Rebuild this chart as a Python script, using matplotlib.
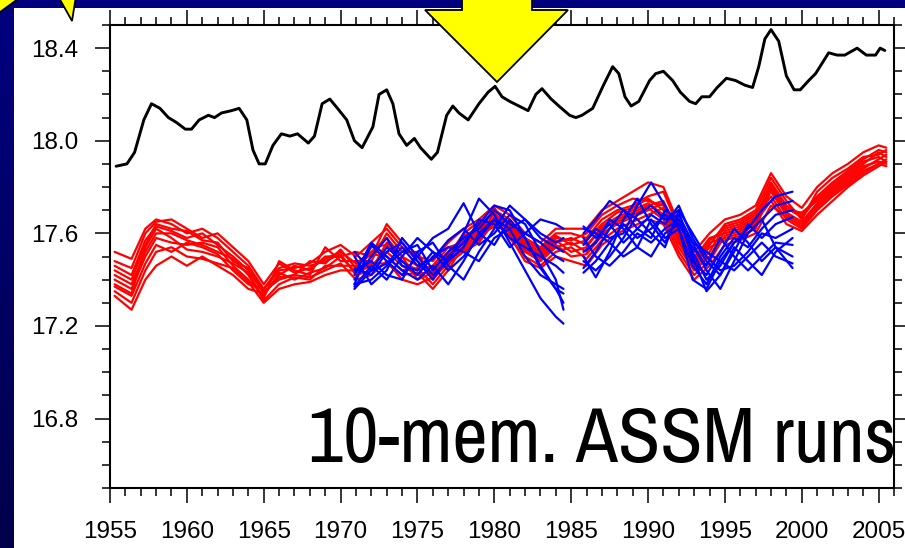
import numpy as np
import matplotlib
matplotlib.use("Agg")
import matplotlib.pyplot as plt
from matplotlib import font_manager
from matplotlib.patches import Rectangle, Polygon
from matplotlib.colors import LinearSegmentedColormap
from matplotlib.ticker import MultipleLocator, FormatStrFormatter

# ---------------- data ----------------
obs_year = [
    1955.4, 1956.1, 1956.6, 1957.2, 1957.7, 1958.25, 1958.8, 1959.3, 1959.9, 1960.3,
    1960.8, 1961.4, 1961.8, 1962.25, 1962.9, 1963.4, 1963.9, 1964.3, 1964.7, 1965.1,
    1965.6, 1966.15, 1966.7, 1967.2, 1967.9, 1968.3, 1968.8, 1969.3, 1969.8, 1970.4,
    1970.9, 1971.4, 1972.1, 1972.5, 1973.0, 1973.4, 1973.8, 1974.3, 1974.8, 1975.2,
    1975.9, 1976.3, 1976.9, 1977.3, 1977.7, 1978.3, 1979.0, 1979.6, 1980.05, 1980.5,
    1981.0, 1981.6, 1982.2, 1982.7, 1983.1, 1983.7, 1984.2, 1984.9, 1985.3, 1985.7,
    1986.4, 1987.1, 1987.7, 1988.1, 1988.5, 1988.9, 1989.4, 1990.1, 1990.5, 1991.0,
    1991.6, 1992.1, 1992.7, 1993.1, 1993.5, 1994.0, 1994.5, 1995.1, 1995.7, 1996.3,
    1996.8, 1997.2, 1997.6, 1998.0, 1998.5, 1999.0, 1999.5, 1999.9, 2000.45, 2000.9,
    2001.75, 2002.3, 2002.8, 2003.6, 2004.2, 2004.8, 2005.1, 2005.4]
obs_temp = [
    17.89, 17.90, 17.95, 18.09, 18.16, 18.14, 18.10, 18.08, 18.05, 18.05,
    18.09, 18.11, 18.10, 18.12, 18.13, 18.14, 18.09, 17.96, 17.90, 17.90,
    17.98, 18.03, 18.02, 18.03, 17.99, 18.02, 18.16, 18.18, 18.14, 18.09,
    18.00, 17.97, 18.06, 18.20, 18.22, 18.16, 18.03, 17.98, 18.01, 17.97,
    17.92, 17.95, 18.11, 18.15, 18.12, 18.09, 18.16, 18.21, 18.235, 18.19,
    18.17, 18.15, 18.13, 18.20, 18.225, 18.18, 18.15, 18.11, 18.10, 18.11,
    18.14, 18.24, 18.32, 18.29, 18.19, 18.15, 18.17, 18.26, 18.29, 18.30,
    18.26, 18.21, 18.17, 18.16, 18.19, 18.19, 18.23, 18.27, 18.26, 18.24,
    18.23, 18.32, 18.44, 18.48, 18.43, 18.28, 18.22, 18.22, 18.26, 18.29,
    18.38, 18.37, 18.37, 18.40, 18.37, 18.37, 18.40, 18.39]

# free-running 10-member ensemble (red): one row per time, one column per member
red_year = [1955.3, 1956.4, 1957.3] + list(range(1958, 2006)) + [2005.5]
red_rows = [
    [17.52, 17.48, 17.46, 17.44, 17.42, 17.40, 17.38, 17.37, 17.35, 17.33],
    [17.49, 17.45, 17.42, 17.40, 17.38, 17.36, 17.34, 17.33, 17.30, 17.27],
    [17.62, 17.60, 17.57, 17.55, 17.52, 17.50, 17.54, 17.47, 17.44, 17.40],
    [17.66, 17.65, 17.63, 17.64, 17.60, 17.58, 17.62, 17.55, 17.52, 17.46],
    [17.64, 17.66, 17.61, 17.62, 17.60, 17.56, 17.58, 17.52, 17.54, 17.50],
    [17.60, 17.62, 17.58, 17.61, 17.57, 17.55, 17.53, 17.56, 17.50, 17.46],
    [17.62, 17.58, 17.60, 17.57, 17.55, 17.56, 17.52, 17.54, 17.49, 17.50],
    [17.58, 17.60, 17.55, 17.56, 17.52, 17.54, 17.50, 17.51, 17.47, 17.46],
    [17.52, 17.54, 17.50, 17.48, 17.49, 17.46, 17.47, 17.44, 17.45, 17.42],
    [17.46, 17.48, 17.44, 17.45, 17.42, 17.40, 17.43, 17.38, 17.39, 17.36],
    [17.36, 17.38, 17.34, 17.35, 17.32, 17.33, 17.31, 17.36, 17.30, 17.34],
    [17.44, 17.47, 17.42, 17.40, 17.48, 17.43, 17.38, 17.45, 17.36, 17.41],
    [17.45, 17.43, 17.46, 17.42, 17.44, 17.40, 17.41, 17.47, 17.38, 17.42],
    [17.47, 17.45, 17.44, 17.48, 17.42, 17.43, 17.40, 17.46, 17.39, 17.41],
    [17.52, 17.49, 17.50, 17.47, 17.54, 17.45, 17.46, 17.48, 17.42, 17.44],
    [17.55, 17.52, 17.50, 17.53, 17.48, 17.50, 17.46, 17.51, 17.44, 17.47],
    [17.50, 17.47, 17.52, 17.45, 17.48, 17.43, 17.46, 17.42, 17.44, 17.40],
    [17.56, 17.52, 17.50, 17.54, 17.48, 17.46, 17.51, 17.44, 17.47, 17.42],
    [17.62, 17.58, 17.64, 17.55, 17.60, 17.52, 17.50, 17.56, 17.47, 17.48],
    [17.54, 17.50, 17.56, 17.48, 17.52, 17.46, 17.44, 17.50, 17.42, 17.40],
    [17.50, 17.46, 17.48, 17.44, 17.52, 17.42, 17.45, 17.40, 17.43, 17.38],
    [17.48, 17.45, 17.42, 17.46, 17.40, 17.44, 17.38, 17.43, 17.36, 17.41],
    [17.56, 17.52, 17.50, 17.54, 17.48, 17.51, 17.46, 17.49, 17.44, 17.47],
    [17.62, 17.58, 17.60, 17.56, 17.59, 17.54, 17.57, 17.53, 17.55, 17.52],
    [17.66, 17.63, 17.65, 17.60, 17.62, 17.58, 17.61, 17.57, 17.59, 17.56],
    [17.72, 17.70, 17.68, 17.71, 17.66, 17.69, 17.64, 17.67, 17.63, 17.65],
    [17.68, 17.66, 17.64, 17.62, 17.65, 17.60, 17.63, 17.58, 17.61, 17.59],
    [17.60, 17.58, 17.56, 17.54, 17.57, 17.52, 17.55, 17.50, 17.53, 17.48],
    [17.56, 17.54, 17.52, 17.50, 17.53, 17.48, 17.51, 17.46, 17.49, 17.45],
    [17.62, 17.60, 17.58, 17.56, 17.59, 17.54, 17.57, 17.52, 17.55, 17.50],
    [17.62, 17.60, 17.57, 17.58, 17.55, 17.56, 17.52, 17.54, 17.50, 17.48],
    [17.62, 17.58, 17.60, 17.55, 17.57, 17.52, 17.54, 17.49, 17.51, 17.46],
    [17.70, 17.66, 17.68, 17.62, 17.64, 17.60, 17.63, 17.57, 17.59, 17.55],
    [17.74, 17.70, 17.72, 17.66, 17.69, 17.64, 17.67, 17.62, 17.65, 17.60],
    [17.78, 17.72, 17.75, 17.69, 17.71, 17.67, 17.70, 17.65, 17.68, 17.63],
    [17.82, 17.76, 17.74, 17.72, 17.75, 17.70, 17.73, 17.68, 17.71, 17.66],
    [17.80, 17.78, 17.72, 17.74, 17.70, 17.73, 17.68, 17.71, 17.66, 17.64],
    [17.64, 17.62, 17.58, 17.60, 17.56, 17.59, 17.54, 17.57, 17.52, 17.50],
    [17.52, 17.50, 17.47, 17.49, 17.45, 17.48, 17.44, 17.46, 17.42, 17.40],
    [17.60, 17.57, 17.55, 17.58, 17.52, 17.56, 17.50, 17.54, 17.48, 17.46],
    [17.66, 17.62, 17.64, 17.60, 17.63, 17.58, 17.61, 17.57, 17.59, 17.55],
    [17.68, 17.64, 17.66, 17.62, 17.65, 17.60, 17.63, 17.59, 17.61, 17.57],
    [17.72, 17.68, 17.70, 17.66, 17.69, 17.64, 17.67, 17.62, 17.65, 17.60],
    [17.86, 17.82, 17.84, 17.80, 17.78, 17.81, 17.76, 17.79, 17.74, 17.72],
    [17.76, 17.72, 17.74, 17.70, 17.68, 17.71, 17.66, 17.69, 17.64, 17.67],
    [17.71, 17.68, 17.66, 17.69, 17.64, 17.67, 17.62, 17.65, 17.61, 17.63],
    [17.80, 17.76, 17.78, 17.74, 17.72, 17.75, 17.70, 17.73, 17.68, 17.71],
    [17.86, 17.82, 17.84, 17.80, 17.78, 17.81, 17.76, 17.79, 17.74, 17.77],
    [17.90, 17.87, 17.88, 17.85, 17.83, 17.86, 17.81, 17.84, 17.80, 17.82],
    [17.95, 17.92, 17.93, 17.90, 17.88, 17.91, 17.86, 17.89, 17.85, 17.87],
    [17.98, 17.96, 17.94, 17.95, 17.92, 17.93, 17.90, 17.91, 17.89, 17.90],
    [17.97, 17.95, 17.96, 17.93, 17.94, 17.91, 17.92, 17.90, 17.91, 17.89],
]

# assimilation runs (blue), first window
assmA_year = [1970.9, 1972, 1973, 1974, 1975, 1976, 1977, 1978, 1979, 1980,
              1981, 1982, 1983, 1984, 1984.5]
assmA_runs = [
    [17.38, 17.55, 17.48, 17.42, 17.50, 17.58, 17.62, 17.73, 17.60, 17.55, 17.66, 17.58, 17.45, 17.36, 17.30],
    [17.40, 17.50, 17.58, 17.46, 17.44, 17.52, 17.48, 17.60, 17.75, 17.68, 17.56, 17.44, 17.32, 17.24, 17.21],
    [17.45, 17.42, 17.52, 17.56, 17.48, 17.40, 17.50, 17.56, 17.64, 17.72, 17.70, 17.58, 17.46, 17.36, 17.34],
    [17.37, 17.46, 17.40, 17.50, 17.58, 17.52, 17.44, 17.50, 17.58, 17.66, 17.62, 17.50, 17.42, 17.38, 17.36],
    [17.52, 17.44, 17.47, 17.54, 17.46, 17.49, 17.57, 17.62, 17.55, 17.60, 17.68, 17.64, 17.52, 17.40, 17.27],
    [17.42, 17.56, 17.50, 17.44, 17.40, 17.46, 17.38, 17.48, 17.60, 17.66, 17.58, 17.54, 17.50, 17.46, 17.43],
    [17.38, 17.40, 17.46, 17.52, 17.55, 17.44, 17.52, 17.58, 17.62, 17.70, 17.64, 17.60, 17.56, 17.50, 17.48],
    [17.44, 17.48, 17.42, 17.40, 17.52, 17.56, 17.46, 17.40, 17.52, 17.62, 17.72, 17.66, 17.58, 17.54, 17.52],
    [17.36, 17.44, 17.54, 17.48, 17.42, 17.50, 17.54, 17.52, 17.48, 17.58, 17.62, 17.66, 17.60, 17.56, 17.58],
    [17.50, 17.38, 17.44, 17.58, 17.50, 17.42, 17.48, 17.54, 17.66, 17.64, 17.54, 17.60, 17.66, 17.64, 17.62],
]

# assimilation runs (blue), second window
assmB_year = [1985.8, 1986.6, 1987.5, 1988.4, 1989.3, 1990.2, 1991.1, 1992, 1992.9,
              1993.8, 1994.7, 1995.6, 1996.5, 1997.4, 1998.3, 1999.4]
assmB_runs = [
    [17.60, 17.66, 17.74, 17.70, 17.62, 17.58, 17.70, 17.66, 17.52, 17.40, 17.46, 17.56, 17.62, 17.70, 17.76, 17.78],
    [17.50, 17.41, 17.52, 17.66, 17.75, 17.64, 17.56, 17.68, 17.56, 17.44, 17.36, 17.48, 17.60, 17.66, 17.72, 17.74],
    [17.55, 17.62, 17.58, 17.60, 17.72, 17.82, 17.72, 17.62, 17.46, 17.38, 17.50, 17.58, 17.54, 17.62, 17.68, 17.70],
    [17.63, 17.58, 17.64, 17.56, 17.62, 17.68, 17.64, 17.72, 17.58, 17.48, 17.42, 17.52, 17.64, 17.58, 17.64, 17.67],
    [17.45, 17.52, 17.62, 17.70, 17.66, 17.60, 17.54, 17.70, 17.60, 17.50, 17.44, 17.46, 17.52, 17.60, 17.58, 17.62],
    [17.58, 17.50, 17.46, 17.52, 17.60, 17.56, 17.62, 17.66, 17.50, 17.35, 17.42, 17.54, 17.48, 17.42, 17.52, 17.58],
    [17.52, 17.56, 17.66, 17.62, 17.54, 17.50, 17.60, 17.64, 17.54, 17.46, 17.58, 17.50, 17.44, 17.50, 17.56, 17.55],
    [17.48, 17.44, 17.50, 17.58, 17.68, 17.72, 17.66, 17.70, 17.48, 17.42, 17.52, 17.62, 17.56, 17.48, 17.54, 17.50],
    [17.62, 17.60, 17.56, 17.64, 17.58, 17.62, 17.68, 17.64, 17.56, 17.52, 17.48, 17.44, 17.50, 17.56, 17.50, 17.47],
    [17.43, 17.48, 17.56, 17.50, 17.54, 17.66, 17.58, 17.62, 17.40, 17.36, 17.48, 17.56, 17.60, 17.66, 17.54, 17.45],
]

x_major = list(range(1955, 2006, 5))
y_major = [16.8, 17.2, 17.6, 18.0, 18.4]
label_text = "10-mem. ASSM runs"

assert len(obs_year) == len(obs_temp)
assert len(red_rows) == len(red_year)
assert all(len(r) == 10 for r in red_rows)
assert all(len(r) == len(assmA_year) for r in assmA_runs)
assert all(len(r) == len(assmB_year) for r in assmB_runs)

# ---------------- figure ----------------
W, H = 905, 548
fig = plt.figure(figsize=(W / 100, H / 100), dpi=100)
fig.patch.set_facecolor("#000080")

names = {f.name for f in font_manager.fontManager.ttflist}
narrow_choice = None
for cand in ["Liberation Sans Narrow", "Arial Narrow", "Archivo Narrow",
             "PT Sans Narrow", "Roboto Condensed", "Barlow Semi Condensed",
             "Asap Condensed"]:
    if cand in names:
        narrow_choice = cand
        break
big_family = [narrow_choice, "Liberation Sans"] if narrow_choice else ["Liberation Sans"]

# slide background
bg = fig.add_axes([0, 0, 1, 1], zorder=-10)
bg.set_xlim(0, W)
bg.set_ylim(H, 0)
bg.axis("off")
cmap = LinearSegmentedColormap.from_list("navy", ["#000080", "#00004a"])
bg.imshow(np.linspace(0, 1, 256).reshape(-1, 1), extent=[0, W, H, 0],
          aspect="auto", cmap=cmap)
bg.add_patch(Rectangle((14, 8), W - 14, H - 8, fc="white", ec="none"))

# main plot
L, R, T, B = 110, 894, 25, 488
ax = fig.add_axes([L / W, (H - B) / H, (R - L) / W, (B - T) / H], zorder=1)
ax.set_facecolor("white")

red = np.array(red_rows)
for m in range(red.shape[1]):
    ax.plot(red_year, red[:, m], color="#ff0000", lw=1.6, solid_joinstyle="round",
            solid_capstyle="round", zorder=2)
for run in assmA_runs:
    ax.plot(assmA_year, run, color="#0000ff", lw=1.6, solid_joinstyle="round",
            solid_capstyle="round", zorder=3)
for run in assmB_runs:
    ax.plot(assmB_year, run, color="#0000ff", lw=1.6, solid_joinstyle="round",
            solid_capstyle="round", zorder=3)
ax.plot(obs_year, obs_temp, color="black", lw=2.1, solid_joinstyle="round",
        solid_capstyle="round", zorder=4)

ax.set_xlim(1955, 2006)
ax.set_ylim(16.5, 18.5)
ax.set_xticks(x_major)
ax.set_xticklabels([str(v) for v in x_major])
ax.xaxis.set_minor_locator(MultipleLocator(1))
ax.set_yticks(y_major)
ax.yaxis.set_major_formatter(FormatStrFormatter("%.1f"))
ax.yaxis.set_minor_locator(MultipleLocator(0.1))

for s in ax.spines.values():
    s.set_linewidth(1.5)
ax.tick_params(which="both", direction="out", top=True, right=True,
               labeltop=False, labelright=False, width=1.1, color="black")
ax.tick_params(which="major", length=10.8)
ax.tick_params(which="minor", length=5.8)
ax.tick_params(axis="x", which="major", pad=13)
ax.tick_params(axis="y", which="major", pad=12)
for lab in ax.get_xticklabels() + ax.get_yticklabels():
    lab.set_fontfamily(["Liberation Sans", "DejaVu Sans"])
    lab.set_fontsize(17.5)

# big annotation text, sized so that it spans x = 308..896 px like the reference
big = fig.text(308 / W, (H - 462) / H, label_text, fontsize=50,
               family=big_family, ha="left", va="baseline",
               color="black", zorder=6)
fig.canvas.draw()
bb = big.get_window_extent()
target_w = 588.0
fs = 50 * target_w / bb.width
fs = min(fs, 56)
big.set_fontsize(fs)

# yellow arrows overlay
ov = fig.add_axes([0, 0, 1, 1], zorder=8)
ov.set_xlim(0, W)
ov.set_ylim(H, 0)
ov.axis("off")
ov.patch.set_alpha(0)
big_arrow = [(462, -6), (532, -6), (532, 10), (568, 10), (497, 82), (425, 10), (462, 10)]
ov.add_patch(Polygon(big_arrow, closed=True, fc="#ffff00", ec="black", lw=1.3))
ov.add_patch(Polygon([(-4, -4), (22, -4), (-4, 15)], closed=True, fc="#ffff00",
                     ec="black", lw=1.3))
ov.add_patch(Polygon([(58, -4), (76, -4), (72, 21)], closed=True, fc="#ffff00",
                     ec="black", lw=1.3))

fig.savefig("out.png", dpi=100)
